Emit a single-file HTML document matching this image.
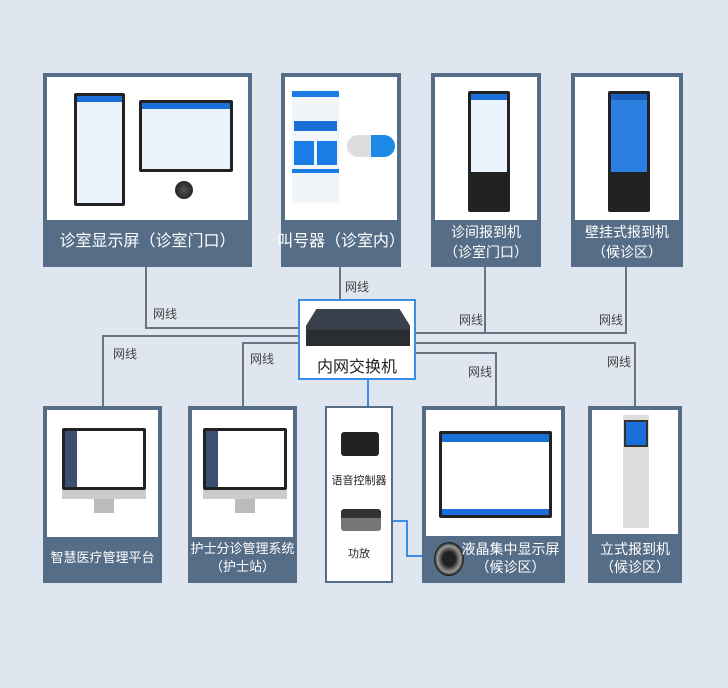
<!DOCTYPE html>
<html><head><meta charset="utf-8"><style>
*{margin:0;padding:0;box-sizing:border-box}
body{width:728px;height:688px;background:#dfe6ef;position:relative;overflow:hidden;font-family:"Liberation Sans","Noto Sans CJK SC",sans-serif}
.card{position:absolute;background:#566d88;border:2px solid #566d88}
.card .img{position:absolute;left:2px;right:2px;top:2px;background:#fff}
.card .lab{position:absolute;left:0;right:0;bottom:0;display:flex;align-items:center;justify-content:center;text-align:center;color:#fff;font-size:15px;line-height:20px;white-space:nowrap}
.h{position:absolute;height:2px;background:#6b7380}
.v{position:absolute;width:2px;background:#6b7380}
.b{background:#3a8ee6}
.t{position:absolute;font-size:12px;color:#444}
.scr{position:absolute;background:#222;border-radius:2px}
.scr i{position:absolute;left:3px;right:3px;top:3px;bottom:3px;background:#eaf2fc;border-top:6px solid #1a6fd8}
.mon{position:absolute}
</style></head><body>

<div class="v" style="left:145px;top:267px;height:62px"></div>
<div class="h" style="left:145px;top:327px;width:154px"></div>
<div class="v" style="left:339px;top:267px;height:32px"></div>
<div class="v" style="left:102px;top:335px;height:72px"></div>
<div class="h" style="left:102px;top:335px;width:197px"></div>
<div class="v" style="left:242px;top:342px;height:65px"></div>
<div class="h" style="left:242px;top:342px;width:57px"></div>
<div class="v" style="left:484px;top:267px;height:67px"></div>
<div class="v" style="left:625px;top:267px;height:67px"></div>
<div class="h" style="left:415px;top:332px;width:212px"></div>
<div class="h" style="left:415px;top:342px;width:221px"></div>
<div class="v" style="left:634px;top:342px;height:65px"></div>
<div class="h" style="left:415px;top:352px;width:82px"></div>
<div class="v" style="left:495px;top:352px;height:55px"></div>
<div class="v b" style="left:367px;top:380px;height:27px"></div>
<div class="h b" style="left:382px;top:520px;width:26px"></div>
<div class="v b" style="left:406px;top:520px;height:37px"></div>
<div class="h b" style="left:406px;top:555px;width:28px"></div>

<div class="t" style="left:153px;top:305px">网线</div>
<div class="t" style="left:345px;top:278px">网线</div>
<div class="t" style="left:113px;top:345px">网线</div>
<div class="t" style="left:250px;top:350px">网线</div>
<div class="t" style="left:459px;top:311px">网线</div>
<div class="t" style="left:599px;top:311px">网线</div>
<div class="t" style="left:468px;top:363px">网线</div>
<div class="t" style="left:607px;top:353px">网线</div>

<div class="card" style="left:43px;top:73px;width:209px;height:194px">
 <div class="img" style="height:143px">
  <div class="scr" style="left:27px;top:16px;width:51px;height:113px"><i></i></div>
  <div class="scr" style="left:92px;top:23px;width:94px;height:72px"><i></i></div>
  <div style="position:absolute;left:128px;top:104px;width:18px;height:18px;border-radius:50%;background:radial-gradient(#555,#111)"></div>
 </div>
 <div class="lab" style="height:47px;font-size:16px">诊室显示屏（诊室门口）</div>
</div>
<div class="card" style="left:281px;top:73px;width:120px;height:194px">
 <div class="img" style="height:143px">
  <div style="position:absolute;left:7px;top:14px;width:47px;height:112px;background:#f1f4f8;border-top:6px solid #1a7de6">
   <div style="position:absolute;left:2px;top:24px;width:43px;height:10px;background:#1a6fd8"></div>
   <div style="position:absolute;left:2px;top:44px;width:43px;height:24px;background:repeating-linear-gradient(90deg,#1a7de6 0 20px,transparent 20px 23px)"></div>
   <div style="position:absolute;left:0;top:72px;width:47px;height:4px;background:#1a7de6"></div>
  </div>
  <div style="position:absolute;left:62px;top:58px;width:48px;height:22px;border-radius:11px;background:linear-gradient(90deg,#ddd 50%,#1a8ae6 50%)"></div>
 </div>
 <div class="lab" style="height:47px;font-size:16px">叫号器（诊室内）</div>
</div>
<div class="card" style="left:431px;top:73px;width:110px;height:194px">
 <div class="img" style="height:143px">
  <div class="scr" style="left:33px;top:14px;width:42px;height:121px"><i style="bottom:40px"></i></div>
 </div>
 <div class="lab" style="height:47px;font-size:14px">诊间报到机<br>（诊室门口）</div>
</div>
<div class="card" style="left:571px;top:73px;width:112px;height:194px">
 <div class="img" style="height:143px">
  <div class="scr" style="left:33px;top:14px;width:42px;height:121px"><i style="bottom:40px;background:#2a7fe0;border-top-color:#1a5fc0"></i></div>
 </div>
 <div class="lab" style="height:47px;font-size:14px">壁挂式报到机<br>（候诊区）</div>
</div>

<div style="position:absolute;left:298px;top:299px;width:118px;height:81px;background:#fff;border:2px solid #3a8ee6">
 <div style="position:absolute;left:6px;top:8px;width:104px;height:37px;background:linear-gradient(#3a414c 0 55%,#2a2e33 55%);clip-path:polygon(10% 0,90% 0,100% 45%,100% 100%,0 100%,0 45%)"></div>
 <div style="position:absolute;left:0;right:0;top:52px;text-align:center;font-size:16px;color:#222">内网交换机</div>
</div>

<div class="card" style="left:43px;top:406px;width:119px;height:177px">
 <div class="img" style="height:127px">
  <div class="mon" style="left:15px;top:18px;width:84px;height:62px;background:#222;border-radius:2px"><div style="position:absolute;left:3px;top:3px;right:3px;bottom:3px;background:#fff;border-left:12px solid #3d4f70"></div></div>
  <div class="mon" style="left:15px;top:80px;width:84px;height:9px;background:#ccc"></div>
  <div class="mon" style="left:47px;top:89px;width:20px;height:14px;background:#bbb"></div>
 </div>
 <div class="lab" style="height:46px;font-size:13px">智慧医疗管理平台</div>
</div>
<div class="card" style="left:188px;top:406px;width:109px;height:177px">
 <div class="img" style="height:127px">
  <div class="mon" style="left:11px;top:18px;width:84px;height:62px;background:#222;border-radius:2px"><div style="position:absolute;left:3px;top:3px;right:3px;bottom:3px;background:#fff;border-left:12px solid #3d4f70"></div></div>
  <div class="mon" style="left:11px;top:80px;width:84px;height:9px;background:#ccc"></div>
  <div class="mon" style="left:43px;top:89px;width:20px;height:14px;background:#bbb"></div>
 </div>
 <div class="lab" style="height:46px;font-size:13px;line-height:18px">护士分诊管理系统<br>（护士站）</div>
</div>
<div style="position:absolute;left:325px;top:406px;width:68px;height:177px;background:#fff;border:2px solid #566d88">
 <div style="position:absolute;left:14px;top:24px;width:38px;height:24px;background:#222;border-radius:3px"></div>
 <div style="position:absolute;left:0;right:0;top:64px;text-align:center;font-size:11px;color:#222">语音控制器</div>
 <div style="position:absolute;left:14px;top:101px;width:40px;height:22px;background:linear-gradient(#333 40%,#777 40%);border-radius:3px"></div>
 <div style="position:absolute;left:0;right:0;top:137px;text-align:center;font-size:11px;color:#222">功放</div>
</div>
<div class="card" style="left:422px;top:406px;width:143px;height:177px">
 <div class="img" style="height:126px">
  <div class="scr" style="left:13px;top:21px;width:113px;height:87px"><i style="background:#fff;border-top:8px solid #1a6fd8;border-bottom:6px solid #1a6fd8"></i></div>
 </div>
 <div style="position:absolute;left:10px;top:134px;width:30px;height:34px;border-radius:50%;background:radial-gradient(#222 30%,#999 55%,#111 70%)"></div>
 <div class="lab" style="height:46px;left:34px;font-size:14px;line-height:18px;pointer-events:none">液晶集中显示屏<br>（候诊区）</div>
</div>
<div class="card" style="left:588px;top:406px;width:94px;height:177px">
 <div class="img" style="height:124px">
  <div style="position:absolute;left:31px;top:5px;width:26px;height:113px;background:#ddd"></div>
  <div style="position:absolute;left:32px;top:10px;width:24px;height:27px;background:#1a6fd8;border:2px solid #333"></div>
 </div>
 <div class="lab" style="height:47px;font-size:14px;line-height:18px">立式报到机<br>（候诊区）</div>
</div>
</body></html>
